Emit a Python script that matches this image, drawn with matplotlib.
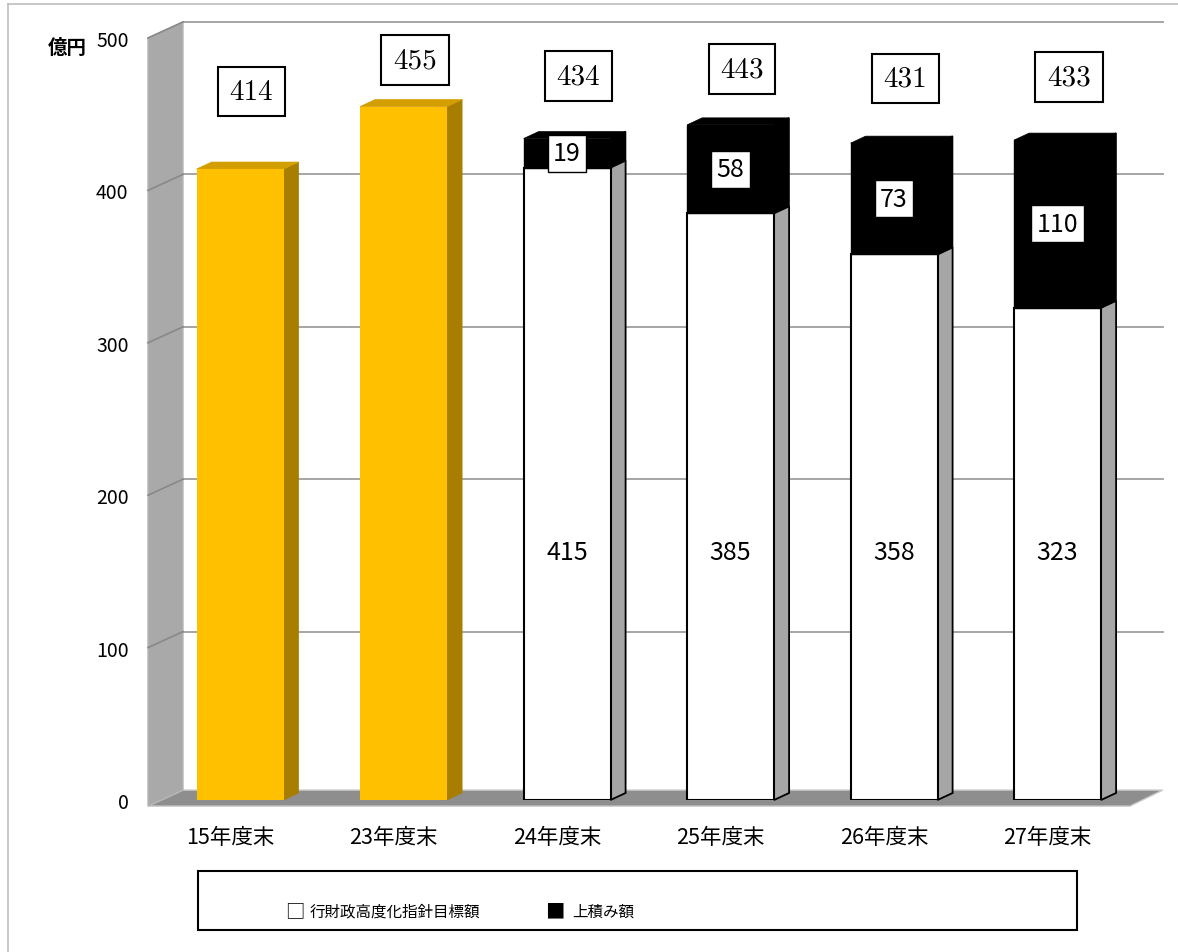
import matplotlib.pyplot as plt
from matplotlib.patches import Polygon, Rectangle
from matplotlib.lines import Line2D

plt.rcParams['font.family'] = ['Noto Sans CJK JP', 'DejaVu Sans']

# data
categories = ['15年度末', '23年度末', '24年度末', '25年度末', '26年度末', '27年度末']
totals = [414, 455, 434, 443, 431, 433]
old_pos = [0, 1]
old_vals = [414, 455]
new_pos = [2, 3, 4, 5]
target = [415, 385, 358, 323]   # 行財政高度化指針目標額
addon = [19, 58, 73, 110]       # 上積み額
legend_labels = ['行財政高度化指針目標額', '上積み額']
yticks = [0, 100, 200, 300, 400, 500]

W, H = 1178, 953
fig = plt.figure(figsize=(W / 100, H / 100), dpi=100)
ax = fig.add_axes([148 / W, (H - 801) / H, 982 / W, 762 / H])
x0, x1 = -0.563, 5.443
ax.set_xlim(x0, x1)
ax.set_ylim(0, 500)
ax.set_frame_on(False)

# 3d walls
wdx, wdy = 0.214, 10.5
fl = -4
ax.add_patch(Polygon([(x0, fl), (x0 + wdx, fl + wdy), (x1 + 0.2, fl + wdy), (x1, fl)],
                     closed=True, fc='#8e8e8e', ec='#c8c8c8', lw=1, zorder=1, clip_on=False))
ax.add_patch(Polygon([(x0, fl), (x0, 500), (x0 + wdx, 500 + wdy), (x0 + wdx, fl + wdy)],
                     closed=True, fc='#a9a9a9', ec='#b5b5b5', lw=1, zorder=1, clip_on=False))
for v in yticks[1:]:
    ax.plot([x0 + wdx, x1 + 0.2], [v + wdy, v + wdy], color='#9e9e9e', lw=1.3, zorder=1, clip_on=False)
    ax.plot([x0, x0 + wdx], [v, v + wdy], color='#888888', lw=1.2, zorder=1.2, clip_on=False)

# bars
bw = 0.532
bdx, bdy = 0.092, 4.6


def side(x, lo, hi, fc, ec, lw):
    xr = x + bw / 2
    ax.add_patch(Polygon([(xr, lo), (xr + bdx, lo + bdy), (xr + bdx, hi + bdy), (xr, hi)],
                         closed=True, fc=fc, ec=ec, lw=lw, zorder=2.5, clip_on=False))


def top(x, h, fc):
    xl, xr = x - bw / 2, x + bw / 2
    ax.add_patch(Polygon([(xl, h), (xl + bdx, h + bdy), (xr + bdx, h + bdy), (xr, h)],
                         closed=True, fc=fc, ec=fc, lw=0.5, zorder=2.5, clip_on=False))


ax.bar(old_pos, old_vals, bw, color='#FFC000', zorder=3)
for x, h in zip(old_pos, old_vals):
    side(x, 0, h, '#a87e00', '#a87e00', 0.5)
    top(x, h, '#d29e00')

ax.bar(new_pos, target, bw, color='white', edgecolor='black', lw=1.5, zorder=3)
ax.bar(new_pos, addon, bw, bottom=target, color='black', edgecolor='black', lw=1, zorder=3)
for x, b, a in zip(new_pos, target, addon):
    side(x, 0, b, '#a6a6a6', 'black', 1.3)
    side(x, b, b + a, 'black', 'black', 1)
    top(x, b + a, 'black')

# labels
for i, t in enumerate(totals):
    ax.text(i + 0.07, 258 + t / 2, str(t), fontfamily='cmr10', fontsize=21,
            ha='center', va='center', zorder=5,
            bbox=dict(boxstyle='square,pad=0.4', fc='white', ec='black', lw=1.5))
for x, b, a in zip(new_pos, target, addon):
    ax.text(x, 163, str(b), fontsize=18, ha='center', va='center', zorder=5)
    ax.text(x, b + a / 2, str(a), fontsize=18, ha='center', va='center', zorder=5,
            bbox=dict(boxstyle='square,pad=0.22', fc='white', ec='black', lw=1))

ax.set_yticks(yticks)
ax.set_xticks([i - 0.06 for i in range(len(categories))], categories)
ax.tick_params(axis='y', length=0, pad=14, labelsize=14)
ax.tick_params(axis='x', length=0, pad=19, labelsize=15.5)

fig.text(48 / W, (H - 48) / H, '億円', fontsize=14, fontweight='bold', va='center')

# legend box
fig.patches.append(Rectangle((198 / W, (H - 931) / H), 879 / W, 59 / H, transform=fig.transFigure,
                             fill=False, ec='black', lw=1.5))
ly = (H - 912) / H
fig.text(285 / W, ly, '□', fontsize=14, va='center')
fig.text(310 / W, ly, legend_labels[0], fontsize=11.2, va='center')
fig.text(545 / W, ly, '■', fontsize=14, va='center')
fig.text(572 / W, ly, legend_labels[1], fontsize=11.2, va='center')

# outer frame
fig.add_artist(Line2D([8 / W, 1], [(H - 5) / H] * 2, color='#bdbdbd', lw=1.2))
fig.add_artist(Line2D([8 / W, 8 / W], [0, (H - 5) / H], color='#bdbdbd', lw=1.2))

fig.savefig('out.png', dpi=100)
